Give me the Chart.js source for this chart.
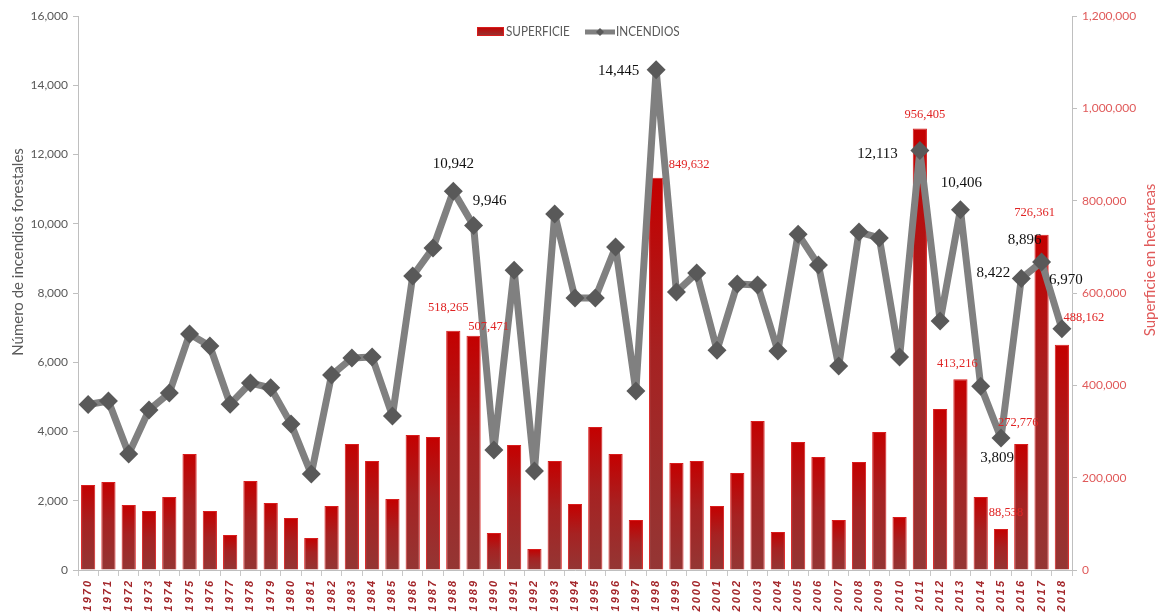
<!DOCTYPE html>
<html>
<head>
<meta charset="utf-8">
<script src="https://cdn.jsdelivr.net/npm/chart.js@4/dist/chart.umd.min.js"></script>
<style>
html,body{margin:0;padding:0;background:#fff;}
#wrap{width:1165px;height:616px;position:relative;}
</style>
</head>
<body>
<div id="wrap"><canvas id="c" width="1165" height="616"></canvas></div>
<script>
const years = ['1970','1971','1972','1973','1974','1975','1976','1977','1978','1979','1980','1981','1982','1983','1984','1985','1986','1987','1988','1989','1990','1991','1992','1993','1994','1995','1996','1997','1998','1999','2000','2001','2002','2003','2004','2005','2006','2007','2008','2009','2010','2011','2012','2013','2014','2015','2016','2017','2018'];
const incendios = [4780,4880,3350,4620,5110,6815,6470,4790,5400,5260,4220,2770,5630,6120,6150,4450,8490,9300,10942,9946,3465,8660,2860,10280,7855,7855,9330,5170,14445,8030,8580,6350,8260,8230,6325,9700,8810,5890,9760,9590,6150,12113,7190,10406,5310,3809,8422,8896,6970];
const superficie = [184000,190600,140800,127800,158100,251300,127800,75800,192800,145100,112600,69300,138600,272900,236100,153800,292400,288100,518265,507471,80100,270700,45500,236100,143000,309700,251300,108300,849632,231800,236100,138600,210100,322700,82300,277200,244800,108300,233900,298900,114800,956405,348700,413216,158100,88538,272776,726361,488162];
const leftTicks = [0,2000,4000,6000,8000,10000,12000,14000,16000];
const rightTicks = [0,200000,400000,600000,800000,1000000,1200000];
const labelledYears = ['1988','1989','1998','2011','2013','2015','2016','2017','2018'];

// label placement (styling only)
const incLabelPos = {
  '1988':{dx:0,dy:-27,align:'center'}, '1989':{dx:16,dy:-25,align:'center'},
  '1998':{dx:-17,dy:1,align:'right'}, '2011':{dx:-22,dy:3,align:'right'},
  '2013':{dx:1,dy:-27,align:'center'}, '2015':{dx:-4,dy:20,align:'center'},
  '2016':{dx:-11,dy:-5,align:'right'}, '2017':{dx:-17,dy:-22,align:'center'},
  '2018':{dx:4,dy:-49,align:'center'}
};
const supLabelPos = {
  '1988':{dx:-5,dy:-23}, '1989':{dx:15,dy:-9}, '1998':{dx:33,dy:-13},
  '2011':{dx:5,dy:-14}, '2013':{dx:-3,dy:-16}, '2015':{dx:5,dy:-16},
  '2016':{dx:-3,dy:-21}, '2017':{dx:-7,dy:-22}, '2018':{dx:22,dy:-27}
};
const fmt = v => Number(v).toLocaleString('en-US');

function barGradient(ctx){
  const chart = ctx.chart;
  if(!chart.chartArea || ctx.type !== 'data') return '#b01515';
  const ys = chart.scales.y1;
  const top = ys.getPixelForValue(ctx.raw);
  const bot = ys.getPixelForValue(0);
  if(!isFinite(top) || !isFinite(bot) || bot - top < 1) return '#b01515';
  const g = chart.ctx.createLinearGradient(0, top, 0, bot);
  g.addColorStop(0, '#c40000');
  g.addColorStop(0.45, '#a62222');
  g.addColorStop(1, '#943634');
  return g;
}

const extras = {
  id:'extras',
  afterDraw(chart){
    const c = chart.ctx;
    c.save();
    // axis titles
    c.font = '15px Lato, "Open Sans", sans-serif';
    c.fillStyle = '#595959';
    c.textAlign = 'center'; c.textBaseline = 'middle';
    c.save(); c.translate(18, 252); c.rotate(-Math.PI/2);
    c.fillText('Número de incendios forestales', 0, 0); c.restore();
    c.fillStyle = '#e05a5a';
    c.save(); c.translate(1150, 260); c.rotate(-Math.PI/2);
    c.fillText('Superficie en hectáreas', 0, 0); c.restore();

    // legend
    const gx = c.createLinearGradient(0,27,0,36);
    gx.addColorStop(0,'#c40000'); gx.addColorStop(1,'#943634');
    c.fillStyle = gx; c.fillRect(477,27,27,9);
    c.strokeStyle = '#d81c1c'; c.lineWidth = 1; c.strokeRect(477.5,27.5,26,8);
    c.font = '13px Lato, sans-serif'; c.fillStyle = '#595959';
    c.textAlign = 'left'; c.textBaseline = 'middle';
    c.save(); c.translate(506,32); c.scale(0.9,1); c.fillText('SUPERFICIE', 0, 0); c.restore();
    c.strokeStyle = '#808080'; c.lineWidth = 5;
    c.beginPath(); c.moveTo(585,32); c.lineTo(615,32); c.stroke();
    c.fillStyle = '#595959';
    c.beginPath(); c.moveTo(600,28); c.lineTo(604,32); c.lineTo(600,36); c.lineTo(596,32); c.closePath(); c.fill();
    c.save(); c.translate(616,32); c.scale(0.9,1); c.fillText('INCENDIOS', 0, 0); c.restore();

    // data labels
    const lineMeta = chart.getDatasetMeta(1);
    const barMeta = chart.getDatasetMeta(0);
    labelledYears.forEach(yr => {
      const i = years.indexOf(yr);
      const bp = barMeta.data[i], lp = lineMeta.data[i];
      const s = supLabelPos[yr];
      c.font = '12.5px "Liberation Serif", "DejaVu Serif", serif';
      c.fillStyle = '#e02424'; c.textAlign = 'center'; c.textBaseline = 'middle';
      c.fillText(fmt(superficie[i]), bp.x + s.dx, bp.y + s.dy);
      const p = incLabelPos[yr];
      c.font = '15px "Liberation Serif", "DejaVu Serif", serif';
      c.fillStyle = '#111'; c.textAlign = p.align;
      c.fillText(fmt(incendios[i]), lp.x + p.dx, lp.y + p.dy);
    });
    c.restore();
  }
};

function spaceXLabels(scale){
  if(scale._spaced) return;
  scale._spaced = true;
  const orig = scale.drawLabels.bind(scale);
  scale.drawLabels = function(area){
    const c = scale.ctx;
    c.save();
    c.letterSpacing = '2px';
    orig(area);
    c.restore();
  };
}

new Chart(document.getElementById('c'), {
  data:{
    labels: years,
    datasets:[
      {type:'bar', label:'SUPERFICIE', data: superficie, yAxisID:'y1', order:2,
       backgroundColor: barGradient, borderColor:'#d81c1c', borderWidth:1,
       barPercentage:0.7, categoryPercentage:1.0},
      {type:'line', label:'INCENDIOS', data: incendios, yAxisID:'y', order:1,
       borderColor:'#808080', borderWidth:7, tension:0, borderJoinStyle:'round',
       pointStyle:'rectRot', pointRadius:9.5, pointBackgroundColor:'#595959',
       pointBorderColor:'#595959', pointBorderWidth:0, pointHoverRadius:9.5}
    ]
  },
  options:{
    responsive:false, animation:false,
    layout:{padding:{top:16,left:0,right:0,bottom:0}},
    plugins:{legend:{display:false}, tooltip:{enabled:false}},
    scales:{
      x:{type:'category', offset:true,
         grid:{display:true, drawOnChartArea:false, drawTicks:true, tickLength:6, color:'#c8c8c8', offset:true},
         border:{color:'#bfbfbf'},
         ticks:{minRotation:90, maxRotation:90, autoSkip:false, padding:3, color:'#a3262a',
                font:{family:'"Liberation Sans", Arial, sans-serif', size:11, weight:'bold', style:'italic'}},
         afterFit(s){ s.height = 46; },
         afterUpdate(s){ spaceXLabels(s); }},
      y:{type:'linear', position:'left', min:0, max:16000,
         afterBuildTicks(s){ s.ticks = leftTicks.map(v=>({value:v})); },
         grid:{display:true, drawOnChartArea:false, drawTicks:true, tickLength:5, color:'#bfbfbf'},
         border:{color:'#bfbfbf'},
         ticks:{padding:5, color:'#595959', font:{family:'Lato, sans-serif', size:12}, callback:v=>fmt(v)},
         afterFit(s){ s.width = 78; }},
      y1:{type:'linear', position:'right', min:0, max:1200000,
         afterBuildTicks(s){ s.ticks = rightTicks.map(v=>({value:v})); },
         grid:{display:true, drawOnChartArea:false, drawTicks:true, tickLength:5, color:'#bfbfbf'},
         border:{color:'#bfbfbf'},
         ticks:{padding:5, color:'#e05a5a', font:{family:'Lato, sans-serif', size:12}, callback:v=>fmt(v)},
         afterFit(s){ s.width = 93; }}
    }
  },
  plugins:[extras]
});
</script>
</body>
</html>
